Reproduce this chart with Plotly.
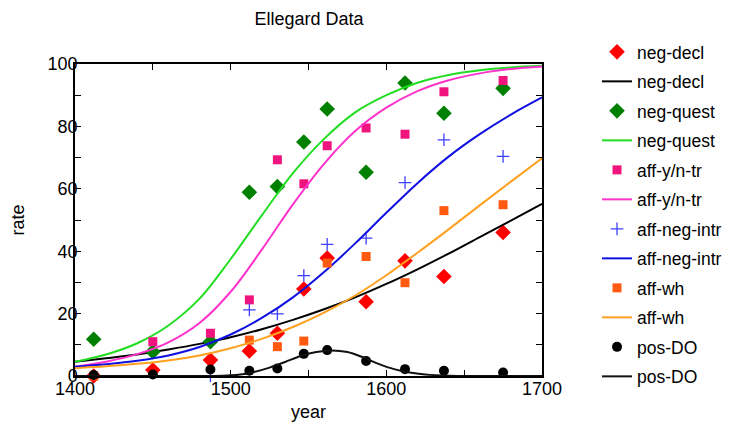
import plotly.graph_objects as go

# ---- data ----
point_years = [1412, 1450, 1487, 1512, 1530, 1547, 1562, 1587, 1612, 1637, 1675]
neg_decl_pts = [0, 1.9, 5.1, 8.0, 13.7, 27.9, 37.8, 23.8, 36.9, 31.9, 46.0]
neg_quest_pts = [11.8, 7.8, 11.0, 58.9, 60.7, 75.0, 85.6, 65.3, 93.9, 84.2, 92.2]
aff_yn_pts = [None, 11.0, 13.7, 24.4, 69.3, 61.6, 73.8, 79.5, 77.5, 91.1, 94.7]
aff_neg_intr_pts = [None, None, 0, 21.2, 19.9, 32.2, 42.2, 44.2, 62.0, 75.7, 70.4]
aff_wh_pts = [0, None, None, 11.5, 9.4, 11.2, 36.2, 38.3, 29.9, 53.0, 54.9]
pos_do_pts = [0.3, 0.5, 2.1, 1.7, 2.4, 7.1, 8.3, 4.8, 2.2, 1.7, 1.1]

curve_years = [1400, 1420, 1440, 1460, 1480, 1500, 1520, 1540, 1560, 1580,
               1600, 1620, 1640, 1660, 1680, 1700]
neg_decl_curve = [4.6, 5.7, 6.9, 8.5, 10.3, 12.4, 15.0, 18.0, 21.4, 25.2,
                  29.5, 34.2, 39.2, 44.5, 49.8, 55.2]
neg_quest_curve = [4.6, 6.9, 10.5, 16.2, 24.8, 37.5, 51.5, 65.0, 76.0, 84.5,
                   90.0, 94.0, 96.5, 98.0, 98.9, 99.4]
aff_yn_curve = [3.0, 4.6, 7.0, 10.8, 17.0, 27.0, 40.5, 55.0, 68.0, 78.5,
                86.0, 91.3, 94.8, 97.0, 98.4, 99.2]
aff_neg_intr_curve = [3.0, 3.8, 4.9, 6.6, 9.3, 13.3, 18.6, 25.2, 33.3, 42.5,
                      52.3, 61.8, 70.3, 77.5, 83.8, 89.3]
aff_wh_curve = [2.5, 3.1, 3.9, 5.0, 6.6, 8.9, 11.9, 15.7, 20.3, 25.8,
                32.3, 39.5, 47.0, 54.7, 62.3, 69.8]
pos_do_years = [1400, 1480, 1495, 1505, 1515, 1525, 1535, 1545, 1555, 1565,
                1575, 1585, 1595, 1605, 1615, 1625, 1640, 1660, 1700]
pos_do_curve = [0, 0, 0.05, 0.4, 1.3, 2.7, 4.5, 6.4, 7.7, 8.2,
                7.7, 6.0, 3.9, 2.2, 1.1, 0.5, 0.1, 0, 0]

x_ticks = [1400, 1500, 1600, 1700]
y_ticks = [0, 20, 40, 60, 80, 100]

FONT = "Liberation Sans, Arial, sans-serif"

series = [
    ("neg-decl", neg_decl_pts, dict(symbol="diamond", size=12, color="#ff0000"),
     curve_years, neg_decl_curve, "#000000"),
    ("neg-quest", neg_quest_pts, dict(symbol="diamond", size=12, color="#008000"),
     curve_years, neg_quest_curve, "#22dd22"),
    ("aff-y/n-tr", aff_yn_pts, dict(symbol="square", size=9, color="#f0147f"),
     curve_years, aff_yn_curve, "#ff33cc"),
    ("aff-neg-intr", aff_neg_intr_pts, dict(symbol="cross-thin", size=9, color="#4040ff",
                                            line=dict(color="#4040ff", width=1.3)),
     curve_years, aff_neg_intr_curve, "#1010e0"),
    ("aff-wh", aff_wh_pts, dict(symbol="square", size=9, color="#ff5a10"),
     curve_years, aff_wh_curve, "#ffa020"),
    ("pos-DO", pos_do_pts, dict(symbol="circle", size=10, color="#000000"),
     pos_do_years, pos_do_curve, "#111111"),
]

fig = go.Figure()
gi = 0
for name, pts, marker, cx, cy, lcol in series:
    fig.add_trace(go.Scatter(x=point_years, y=pts, mode="markers", name=name,
                             marker=marker, cliponaxis=False,
                             legendgroup=f"g{gi}"))
    gi += 1
    fig.add_trace(go.Scatter(x=cx, y=cy, mode="lines", name=name,
                             line=dict(color=lcol, width=2, shape="spline", smoothing=1.0),
                             cliponaxis=False, legendgroup=f"g{gi}"))
    gi += 1

axis_common = dict(showline=True, linecolor="black", linewidth=1.5, mirror="ticks",
                   ticks="inside", ticklen=6, tickwidth=1.3, tickcolor="black",
                   showgrid=False, zeroline=False,
                   tickfont=dict(family=FONT, size=18, color="black"),
                   title_font=dict(family=FONT, size=18, color="black"))

fig.update_xaxes(range=[1400, 1700], tickvals=x_ticks,
                 minor=dict(dtick=50, ticks="inside", ticklen=6, tickcolor="black", tickwidth=1.3),
                 ticklabelstandoff=-4,
                 title_text="year", title_standoff=7, **axis_common)
fig.update_yaxes(range=[0, 100], tickvals=y_ticks,
                 minor=dict(dtick=10, ticks="inside", ticklen=6, tickcolor="black", tickwidth=1.3),
                 ticklabelstandoff=-8,
                 title_text="rate", title_standoff=18, **axis_common)

# the page body adds an 8px offset, so the figure is laid out 8px up/left
fig.update_layout(
    width=723, height=421,
    margin=dict(l=67, r=189, t=56, b=53, autoexpand=False),
    paper_bgcolor="white", plot_bgcolor="white",
    title=dict(text="Ellegard Data", x=0.4163, xanchor="center", y=0.9739, yanchor="middle",
               font=dict(family=FONT, size=18, color="black")),
    legend=dict(x=1.1178, xanchor="left", y=1.0962, yanchor="top",
                maxheight=415,
                font=dict(family=FONT, size=17.5, color="black"),
                tracegroupgap=3.75, bgcolor="rgba(0,0,0,0)", itemsizing="trace"),
    showlegend=True,
)

fig.write_html("out.html")
